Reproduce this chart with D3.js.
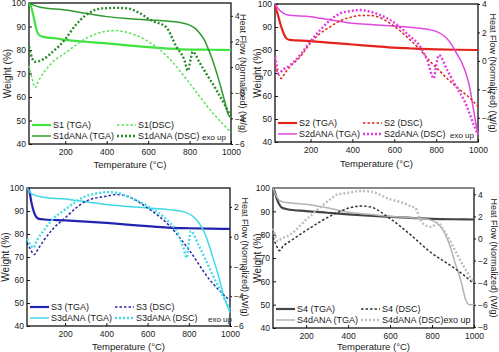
<!DOCTYPE html>
<html>
<head>
<meta charset="utf-8">
<script src="https://cdn.jsdelivr.net/npm/d3@7"></script>
<style>
  body { margin: 0; background: #fff; }
  text { font-family: "Liberation Sans", Arial, sans-serif; fill: #222; }
</style>
</head>
<body>
<div id="chart"></div>
<script>
// ---- data: [temperature °C, value] ----
// weight (%) on the left axis, heat flow (W/g) on the right axis

// panel S1
var s1Tga = [[25,100],[35,98.5],[45,95],[55,91],[65,87.5],[80,86],[100,85.5],[150,85],[200,84.3],[300,83.5],[400,82.8],[500,82],[600,81.2],[700,80.6],[800,80.2],[900,80.1],[1000,80]];
var s1dTga = [[25,100],[50,99],[80,98.2],[200,97],[300,95.6],[400,94.2],[500,93.4],[600,92.8],[700,92.2],[760,91.6],[800,90.6],[830,89],[850,87],[870,84.5],[890,80.5],[910,76],[930,70.5],[950,64.5],[970,58],[985,53],[1000,51]];
var s1Dsc = [[25,0.1],[40,-0.9],[55,-1.6],[70,-1.1],[93,-0.5],[140,0.4],[200,1.1],[300,2.24],[400,2.8],[440,2.85],[500,2.7],[600,2],[700,0.7],[800,-1.26],[900,-3.35],[1000,-5.1]];
var s1dDsc = [[25,1.6],[40,0.7],[52,0.42],[70,0.45],[93,0.6],[140,1.2],[200,2.17],[250,3.28],[300,4.06],[380,4.58],[450,4.62],[500,4.58],[560,4.2],[620,3.6],[685,3.15],[736,1.6],[775,0.55],[792,-0.28],[805,0.6],[815,1.2],[850,0.3],[880,-0.49],[930,-1.8],[975,-3.1],[1000,-3.9]];

// panel S2
var s2Tga = [[30,99],[45,95],[55,91.5],[70,87.5],[85,85],[100,84.4],[200,83.9],[300,83.1],[400,82.4],[500,81.7],[600,81],[700,80.6],[800,80.3],[900,80.1],[1000,80]];
var s2dTga = [[30,100],[50,97.5],[70,96],[90,95.2],[200,94.5],[300,93],[400,91.6],[500,91],[600,90.4],[700,89.7],[760,89],[805,87.9],[840,86],[870,82.9],[895,79],[920,75],[940,70.5],[960,64],[975,56],[990,48],[1000,43]];
var s2Dsc = [[30,-0.3],[45,-0.9],[59,-1.23],[80,-0.8],[102,-0.41],[150,0.29],[198,1.23],[246,1.93],[294,2.4],[342,2.82],[390,3.06],[440,3.2],[485,3.2],[520,3.1],[580,2.64],[677,1.46],[725,0.76],[773,-0.06],[821,-0.77],[869,-1.47],[917,-2.06],[960,-2.6],[1000,-3.2]];
var s2dDsc = [[30,0.3],[38,-0.3],[46,-0.88],[70,-0.6],[102,-0.3],[150,0.41],[198,1.35],[246,2.17],[294,2.87],[342,3.34],[390,3.5],[437,3.58],[485,3.46],[520,3.3],[581,2.87],[677,1.7],[725,0.99],[757,0.06],[789,-1.23],[800,-0.3],[813,0.41],[853,-0.65],[901,-1.94],[935,-2.8],[960,-3.7],[980,-4.5],[1000,-5.2]];

// panel S3
var s3Tga = [[15,100],[25,99],[37,93.5],[53,88.5],[69,86.7],[100,86.3],[200,85.9],[300,85.4],[400,84.8],[500,84.1],[600,83.4],[700,82.8],[800,82.5],[900,82.3],[1000,82.2]];
var s3dTga = [[15,100],[30,98.2],[45,97.1],[94,96],[200,95.2],[300,94],[400,92.8],[500,92],[600,91.3],[700,90.6],[780,89.5],[820,87.7],[850,84.8],[880,79.8],[910,71.8],[940,63.1],[970,53],[1000,45.8]];
var s3Dsc = [[15,-0.4],[30,-0.8],[49,-1.2],[70,-0.8],[94,-0.3],[138,0.48],[200,1.26],[250,1.9],[300,2.38],[400,2.72],[450,2.83],[500,2.72],[600,1.93],[700,0.82],[800,-0.86],[900,-2.87],[1000,-4.3]];
var s3dDsc = [[15,-0.15],[30,-0.5],[45,-0.75],[65,-0.2],[94,0.37],[138,1.15],[200,1.82],[300,2.72],[350,2.9],[400,2.99],[450,2.95],[500,2.72],[600,2.05],[700,1.04],[750,0.15],[775,-0.8],[790,-1.42],[800,-0.4],[810,0.37],[850,-0.64],[900,-2.1],[950,-3.55],[1000,-4.89]];

// panel S4
var s4Tga = [[42,100],[50,98.5],[61,95.1],[75,92.5],[85,91.5],[110,90.9],[200,90.1],[300,89.4],[400,88.7],[500,88.1],[600,87.6],[700,87.2],[800,86.8],[900,86.6],[1000,86.5]];
var s4dTga = [[42,100],[55,97],[70,95],[90,94],[200,93],[300,91.5],[400,89.6],[500,88.7],[600,87.8],[700,87.3],[780,86.6],[820,85.1],[850,82.3],[880,76.5],[910,67.9],[940,59.4],[960,52.2],[975,50.1],[1000,50]];
var s4Dsc = [[42,0.1],[55,-0.5],[73,-1.1],[90,-0.7],[125,-0.23],[220,0.97],[315,2.03],[410,2.79],[460,2.94],[505,2.86],[600,1.8],[700,0.3],[790,-1.2],[900,-2.6],[950,-3.3],[1000,-4.1]];
var s4dDsc = [[42,0.9],[52,0.3],[61,-0.23],[85,0],[125,0.37],[200,1.7],[220,2.03],[315,3.55],[350,4.0],[410,4.15],[450,4.3],[505,4.25],[600,3.55],[664,3.2],[700,2.9],[720,2.79],[730,2.4],[744,1.73],[776,1.13],[800,1.05],[824,1.43],[863,0.52],[903,-0.84],[950,-2.5],[1000,-4]];

var weightTicks = [40, 50, 60, 70, 80, 90, 100];
var tempTicks = [200, 400, 600, 800, 1000];

var width = 499, height = 352;
var svg = d3.select("#chart").append("svg")
    .attr("width", width)
    .attr("height", height);

// one panel = frame, 3 axes, 4 curves, legend
var panels = [
  { name: "S1", x0: 29, x1: 231, y0: 3, y1: 144, tMin: 25, hf: [-6, 5], hfTicks: [-6,-4,-2,0,2,4],
    tga: s1Tga, dTga: s1dTga, dsc: s1Dsc, dDsc: s1dDsc,
    c1: "#3fe23f", c2: "#2f9b2f", c3: "#5ae35a", c4: "#2a8a2a",
    legDsc1: "S1(DSC)", exoJoin: false, exoX: 202, wLabelX: 7, hLabelX: 243, tLabelY: 165 },
  { name: "S2", x0: 275, x1: 478, y0: 4, y1: 142, tMin: 30, hf: [-5.7, 4], hfTicks: [-4,-2,0,2,4],
    tga: s2Tga, dTga: s2dTga, dsc: s2Dsc, dDsc: s2dDsc,
    c1: "#e3231c", c2: "#e048e0", c3: "#e0251e", c4: "#e03ce0",
    legDsc1: "S2 (DSC)", exoJoin: false, exoX: 450, wLabelX: 257, hLabelX: 493, tLabelY: 164 },
  { name: "S3", x0: 27, x1: 230, y0: 188, y1: 326, tMin: 15, hf: [-6, 3.27], hfTicks: [-6,-4,-2,0,2],
    tga: s3Tga, dTga: s3dTga, dsc: s3Dsc, dDsc: s3dDsc,
    c1: "#2323b0", c2: "#3fd9e6", c3: "#2626a8", c4: "#45dbe8",
    legDsc1: "S3 (DSC)", exoJoin: false, exoX: 208, wLabelX: 5, hLabelX: 245, tLabelY: 347 },
  { name: "S4", x0: 273, x1: 474, y0: 188, y1: 328, tMin: 42, hf: [-8.1, 4.57], hfTicks: [-8,-6,-4,-2,0,2,4],
    tga: s4Tga, dTga: s4dTga, dsc: s4Dsc, dDsc: s4dDsc,
    c1: "#454545", c2: "#b4b4b4", c3: "#333333", c4: "#bdbdbd",
    legDsc1: "S4 (DSC)", exoJoin: true, wLabelX: 257, hLabelX: 494, tLabelY: 347, topGrey: true }
];

panels.forEach(drawPanel);

function drawPanel(p) {
  var g = svg.append("g");

  var x = d3.scaleLinear().domain([p.tMin, 1000]).range([p.x0, p.x1]);
  var yW = d3.scaleLinear().domain([40, 100]).range([p.y1, p.y0]);
  var yH = d3.scaleLinear().domain(p.hf).range([p.y1, p.y0]);

  // axes
  g.append("g")
    .attr("transform", "translate(" + p.x0 + ",0)")
    .call(d3.axisLeft(yW).tickValues(weightTicks).tickSize(-3).tickPadding(3))
    .call(styleAxis);
  g.append("g")
    .attr("transform", "translate(" + p.x1 + ",0)")
    .call(d3.axisRight(yH).tickValues(p.hfTicks).tickSize(2).tickPadding(2).tickFormat(d3.format("d")))
    .call(styleAxis);
  g.append("g")
    .attr("transform", "translate(0," + p.y1 + ")")
    .call(d3.axisBottom(x).tickValues(tempTicks).tickSize(-3).tickPadding(5).tickFormat(d3.format("d")))
    .call(styleAxis);

  // frame
  g.append("rect")
    .attr("x", p.x0).attr("y", p.y0)
    .attr("width", p.x1 - p.x0).attr("height", p.y1 - p.y0)
    .attr("fill", "none").attr("stroke", "#111").attr("stroke-width", 1.3);
  if (p.topGrey) {
    g.append("line")
      .attr("x1", p.x0).attr("x2", p.x1).attr("y1", p.y0).attr("y2", p.y0)
      .attr("stroke", "#8a8a8a").attr("stroke-width", 2);
  }

  // curves
  var lineW = d3.line().x(function(d) { return x(d[0]); }).y(function(d) { return yW(d[1]); }).curve(d3.curveMonotoneX);
  var lineH = d3.line().x(function(d) { return x(d[0]); }).y(function(d) { return yH(d[1]); }).curve(d3.curveMonotoneX);

  var styles = [
    { data: p.tga, line: lineW, color: p.c1, w: 2.2, dash: null },
    { data: p.dTga, line: lineW, color: p.c2, w: 1.5, dash: null },
    { data: p.dsc, line: lineH, color: p.c3, w: 1.5, dash: "2.5,2" },
    { data: p.dDsc, line: lineH, color: p.c4, w: 2.4, dash: "2,2" }
  ];
  styles.forEach(function(s) {
    g.append("path")
      .attr("d", s.line(s.data))
      .attr("fill", "none")
      .attr("stroke", s.color)
      .attr("stroke-width", s.w)
      .attr("stroke-dasharray", s.dash);
  });

  // legend
  var r1 = p.y1 - 19, r2 = p.y1 - 8;
  var lx1 = p.x0 + 3, lx2 = p.x0 + 88;
  var legend = [
    { x: lx1, y: r1, s: styles[0], label: p.name + " (TGA)" },
    { x: lx1, y: r2, s: styles[1], label: p.name + "dANA (TGA)" },
    { x: lx2, y: r1, s: styles[2], label: p.legDsc1 },
    { x: lx2, y: r2, s: styles[3], label: p.name + "dANA (DSC)" + (p.exoJoin ? "exo up" : "") }
  ];
  legend.forEach(function(l) {
    g.append("line")
      .attr("x1", l.x).attr("x2", l.x + 19)
      .attr("y1", l.y).attr("y2", l.y)
      .attr("stroke", l.s.color)
      .attr("stroke-width", l.s.w)
      .attr("stroke-dasharray", l.s.dash);
    g.append("text")
      .attr("x", l.x + 21).attr("y", l.y + 3.3)
      .style("font-size", "9px")
      .text(l.label);
  });
  if (!p.exoJoin) {
    g.append("text")
      .attr("x", p.exoX).attr("y", r2 + 4)
      .style("font-size", "8px")
      .text("exo up");
  }

  // axis titles
  g.append("text")
    .attr("transform", "translate(" + p.wLabelX + "," + ((p.y0 + p.y1) / 2) + ") rotate(-90)")
    .attr("text-anchor", "middle").attr("dy", "0.35em")
    .style("font-size", "10px")
    .text("Weight (%)");
  g.append("text")
    .attr("transform", "translate(" + p.hLabelX + "," + ((p.y0 + p.y1) / 2) + ") rotate(90)")
    .attr("text-anchor", "middle").attr("dy", "0.35em")
    .style("font-size", "9px")
    .text("Heat Flow (Normalized) (W/g)");
  g.append("text")
    .attr("x", (p.x0 + p.x1) / 2).attr("y", p.tLabelY)
    .attr("text-anchor", "middle").attr("dy", "0.35em")
    .style("font-size", "9.5px")
    .text("Temperature (°C)");
}

function styleAxis(sel) {
  sel.select(".domain").remove();
  sel.selectAll(".tick line").attr("stroke", "#111");
  sel.selectAll(".tick text").style("font-size", "8.5px").attr("fill", "#222");
}
</script>
</body>
</html>
